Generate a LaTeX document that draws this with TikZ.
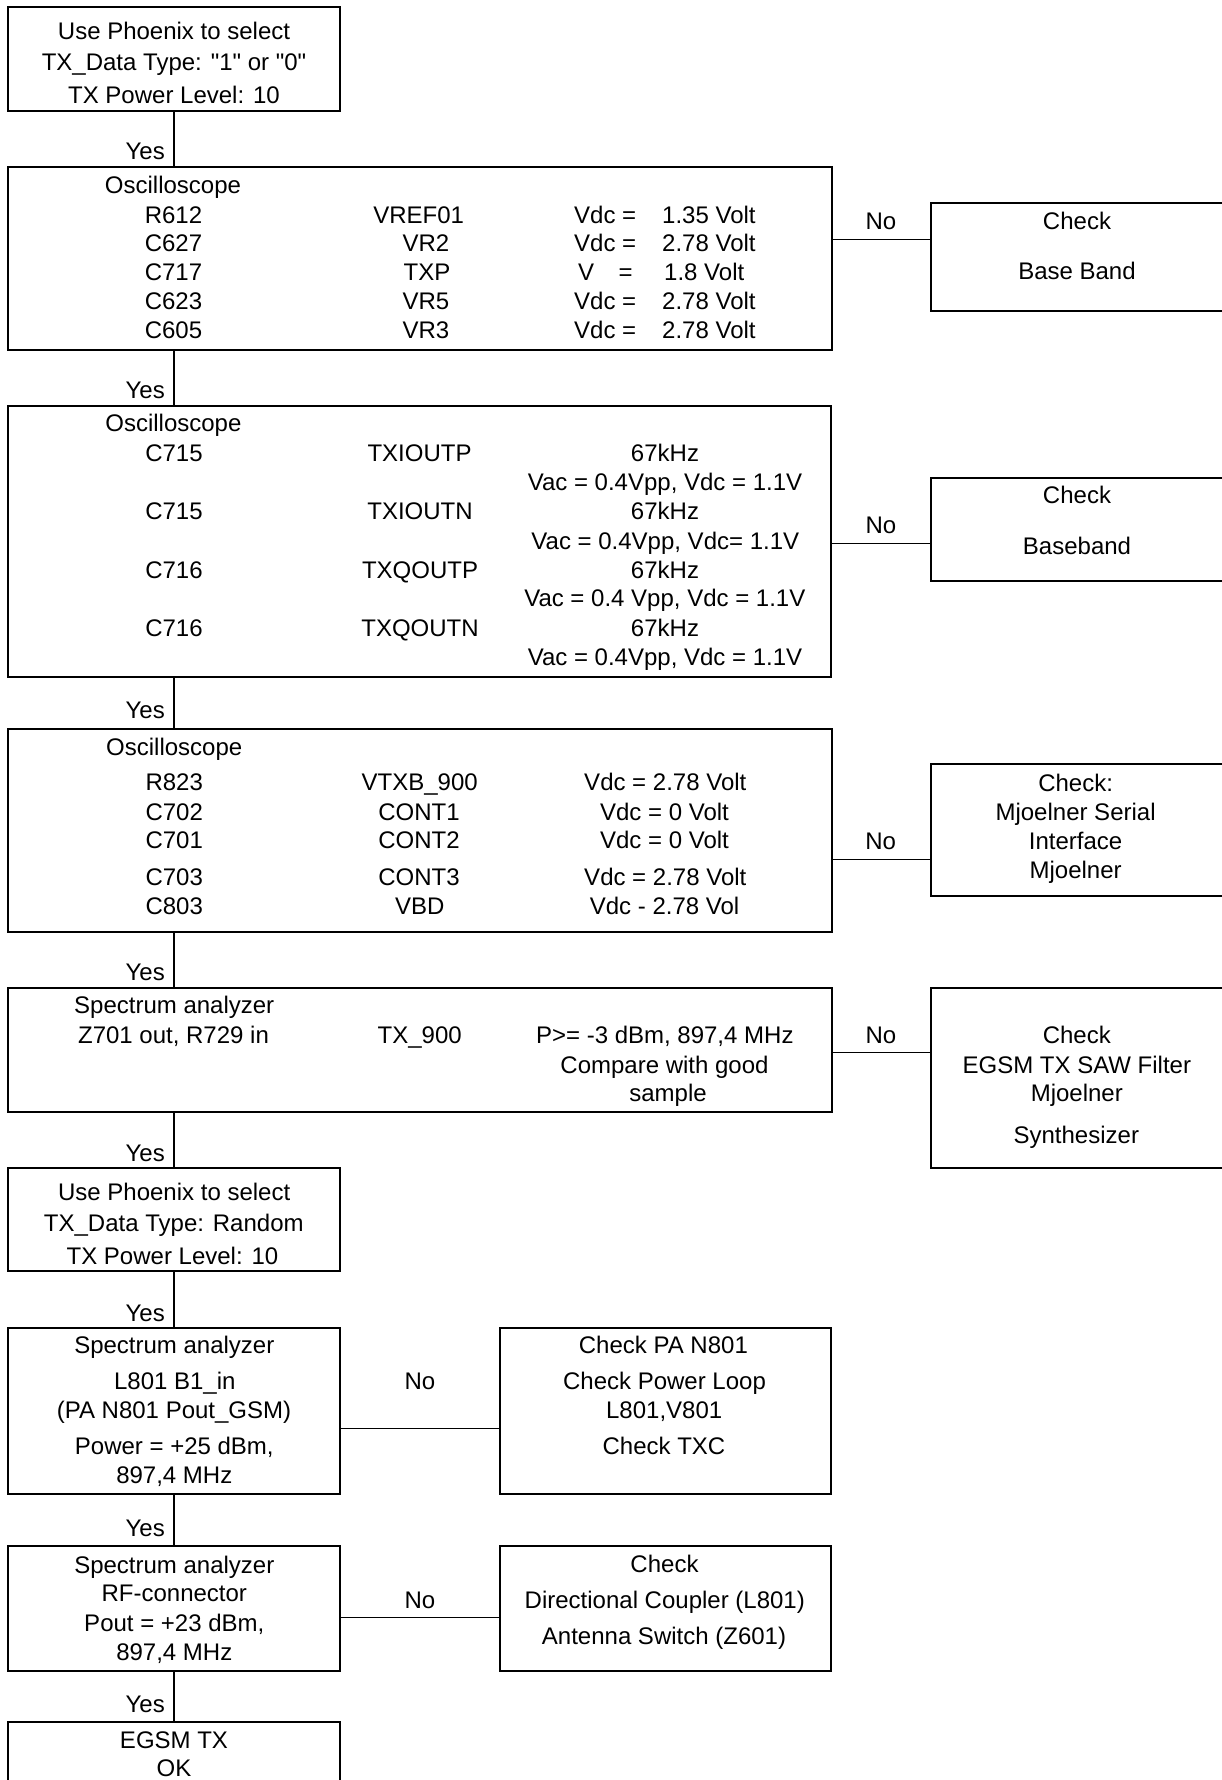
\documentclass[tikz,border=0pt]{standalone}
\usepackage{fontspec}
\setmainfont{Liberation Sans}[Ligatures=TeXOff]
\begin{document}
\begin{tikzpicture}[x=1pt,y=-1pt,
  box/.style={draw, line width=2pt, inner sep=0pt},
  conn/.style={line width=1.4pt},
  txt/.style={inner sep=0pt, text height=17.2pt, text depth=0pt, anchor=center},
  txw/.style={txt, anchor=west},
  yes/.style={txt, anchor=east},
  every node/.append style={font=\fontsize{24}{29}\selectfont}]
\useasboundingbox (0,0) rectangle (1222,1780);
\clip (0,0) rectangle (1222,1780);
% boxes
\node[box, minimum width=332pt, minimum height=104pt] (b1) at (174,59) {};
\node[box, minimum width=824pt, minimum height=183pt] (b2) at (420,258.5) {};
\node[box, minimum width=309pt, minimum height=108pt] (b3) at (1085.5,257) {};
\node[box, minimum width=823pt, minimum height=271pt] (b4) at (419.5,541.5) {};
\node[box, minimum width=309pt, minimum height=103pt] (b5) at (1085.5,529.5) {};
\node[box, minimum width=824pt, minimum height=203pt] (b6) at (420,830.5) {};
\node[box, minimum width=309pt, minimum height=132pt] (b7) at (1085.5,830) {};
\node[box, minimum width=824pt, minimum height=124pt] (b8) at (420,1050) {};
\node[box, minimum width=309pt, minimum height=180pt] (b9) at (1085.5,1078) {};
\node[box, minimum width=332pt, minimum height=103pt] (b10) at (174,1219.5) {};
\node[box, minimum width=332pt, minimum height=166pt] (b11) at (174,1411) {};
\node[box, minimum width=331pt, minimum height=166pt] (b12) at (665.5,1411) {};
\node[box, minimum width=332pt, minimum height=125pt] (b13) at (174,1608.5) {};
\node[box, minimum width=331pt, minimum height=125pt] (b14) at (665.5,1608.5) {};
\node[box, minimum width=332pt, minimum height=78pt] (b15) at (174,1761) {};
% box 1
\node[txt] (t1a) at (174,30.5) {Use Phoenix to select};
\node[txt] (t1b) at (174,62.2) {TX\_Data Type: "1" or "0"};
\node[txt] (t1c) at (174,94.7) {TX Power Level: 10};
% box 2
\node[txt] (t2h) at (173,185) {Oscilloscope};
\node[txt] (t2a1) at (173.5,214.7) {R612};
\node[txt] (t2b1) at (173.5,243.3) {C627};
\node[txt] (t2c1) at (173.5,272) {C717};
\node[txt] (t2d1) at (173.5,300.5) {C623};
\node[txt] (t2e1) at (173.5,330) {C605};
\node[txt] (t2a2) at (418.7,214.7) {VREF01};
\node[txt] (t2b2) at (426,243.3) {VR2};
\node[txt] (t2c2) at (427,272) {TXP};
\node[txt] (t2d2) at (426,300.5) {VR5};
\node[txt] (t2e2) at (426,330) {VR3};
\node[txw] (t2a3) at (574,214.7) {Vdc =};
\node[txw] (t2b3) at (574,243.3) {Vdc =};
\node[txw] (t2c3) at (578,272) {V\hspace{24.5pt}=};
\node[txw] (t2d3) at (574,300.5) {Vdc =};
\node[txw] (t2e3) at (574,330) {Vdc =};
\node[txw] (t2a4) at (662,214.7) {1.35 Volt};
\node[txw] (t2b4) at (662,243.3) {2.78 Volt};
\node[txw] (t2c4) at (664,272) {1.8 Volt};
\node[txw] (t2d4) at (662,300.5) {2.78 Volt};
\node[txw] (t2e4) at (662,330) {2.78 Volt};
% box 3
\node[txt] (t3a) at (1077,220.7) {Check};
\node[txt] (t3b) at (1077,270.7) {Base Band};
% box 4
\node[txt] (t4h) at (173.4,423.3) {Oscilloscope};
\node[txt] (t4a1) at (174,452.7) {C715};
\node[txt] (t4a2) at (419.5,452.7) {TXIOUTP};
\node[txt] (t4a3) at (665,452.7) {67kHz};
\node[txt] (t4a4) at (665,482.3) {Vac = 0.4Vpp, Vdc = 1.1V};
\node[txt] (t4b1) at (174,510.7) {C715};
\node[txt] (t4b2) at (420,510.7) {TXIOUTN};
\node[txt] (t4b3) at (665,510.7) {67kHz};
\node[txt] (t4b4) at (665.3,540.7) {Vac = 0.4Vpp, Vdc= 1.1V};
\node[txt] (t4c1) at (174,570) {C716};
\node[txt] (t4c2) at (420,570) {TXQOUTP};
\node[txt] (t4c3) at (665,570) {67kHz};
\node[txt] (t4c4) at (664.8,598.3) {Vac = 0.4 Vpp, Vdc = 1.1V};
\node[txt] (t4d1) at (174,628.3) {C716};
\node[txt] (t4d2) at (420,628.3) {TXQOUTN};
\node[txt] (t4d3) at (665,628.3) {67kHz};
\node[txt] (t4d4) at (665,656.7) {Vac = 0.4Vpp, Vdc = 1.1V};
% box 5
\node[txt] (t5a) at (1077,495) {Check};
\node[txt] (t5b) at (1077,546) {Baseband};
% box 6
\node[txt] (t6h) at (174.2,746.7) {Oscilloscope};
\node[txt] (t6a1) at (174.2,781.7) {R823};
\node[txt] (t6a2) at (419.7,781.7) {VTXB\_900};
\node[txt] (t6a3) at (665.3,781.7) {Vdc = 2.78 Volt};
\node[txt] (t6b1) at (174.2,811.7) {C702};
\node[txt] (t6b2) at (419,811.7) {CONT1};
\node[txt] (t6b3) at (664.5,811.7) {Vdc = 0 Volt};
\node[txt] (t6c1) at (174.2,840) {C701};
\node[txt] (t6c2) at (419,840) {CONT2};
\node[txt] (t6c3) at (664.5,840) {Vdc = 0 Volt};
\node[txt] (t6d1) at (174.2,876.7) {C703};
\node[txt] (t6d2) at (419,876.7) {CONT3};
\node[txt] (t6d3) at (665.3,876.7) {Vdc = 2.78 Volt};
\node[txt] (t6e1) at (174.2,905.7) {C803};
\node[txt] (t6e2) at (419.7,905.7) {VBD};
\node[txt] (t6e3) at (664.6,905.7) {Vdc - 2.78 Vol};
% box 7
\node[txt] (t7a) at (1075.6,782.7) {Check:};
\node[txt] (t7b) at (1075.6,811.7) {Mjoelner Serial};
\node[txt] (t7c) at (1075.6,841) {Interface};
\node[txt] (t7d) at (1075.6,870) {Mjoelner};
% box 8
\node[txt] (t8h) at (174.2,1005) {Spectrum analyzer};
\node[txt] (t8a1) at (173.5,1035) {Z701 out, R729 in};
\node[txt] (t8a2) at (419.7,1035) {TX\_900};
\node[txt] (t8a3) at (664.8,1035) {P>= -3 dBm, 897,4 MHz};
\node[txt] (t8b3) at (664.5,1065) {Compare with good};
\node[txt] (t8c3) at (668,1093.3) {sample};
% box 9
\node[txt] (t9a) at (1076.8,1035) {Check};
\node[txt] (t9b) at (1076.8,1065) {EGSM TX SAW Filter};
\node[txt] (t9c) at (1076.8,1093.3) {Mjoelner};
\node[txt] (t9d) at (1076.3,1135) {Synthesizer};
% box 10
\node[txt] (t10a) at (174.2,1191.7) {Use Phoenix to select};
\node[txt] (t10b) at (173.8,1223.3) {TX\_Data Type: Random};
\node[txt] (t10c) at (172.5,1256) {TX Power Level: 10};
% box 11
\node[txt] (t11a) at (174.3,1345) {Spectrum analyzer};
\node[txt] (t11b) at (174.8,1381) {L801 B1\_in};
\node[txt] (t11c) at (174,1410) {(PA N801 Pout\_GSM)};
\node[txt] (t11d) at (174.3,1446) {Power = +25 dBm,};
\node[txt] (t11e) at (174.3,1475) {897,4 MHz};
% box 12
\node[txt] (t12a) at (663.4,1345) {Check PA N801};
\node[txt] (t12b) at (664.5,1381) {Check Power Loop};
\node[txt] (t12c) at (664.2,1410) {L801,V801};
\node[txt] (t12d) at (664,1446) {Check TXC};
% box 13
\node[txt] (t13a) at (174.3,1565) {Spectrum analyzer};
\node[txt] (t13b) at (174.3,1593.3) {RF-connector};
\node[txt] (t13c) at (174.3,1622.7) {Pout = +23 dBm,};
\node[txt] (t13d) at (174.3,1651.7) {897,4 MHz};
% box 14
\node[txt] (t14a) at (664.5,1564.3) {Check};
\node[txt] (t14b) at (664.8,1600) {Directional Coupler (L801)};
\node[txt] (t14c) at (664,1636) {Antenna Switch (Z601)};
% box 15
\node[txt] (t15a) at (174,1740) {EGSM TX};
\node[txt] (t15b) at (174,1768.3) {OK};
% Yes connectors
\draw[conn] (b1.south) -- (b2.north -| b1.south);
\draw[conn] (b2.south -| b1.south) -- (b4.north -| b1.south);
\draw[conn] (b4.south -| b1.south) -- (b6.north -| b1.south);
\draw[conn] (b6.south -| b1.south) -- (b8.north -| b1.south);
\draw[conn] (b8.south -| b1.south) -- (b10.north);
\draw[conn] (b10.south) -- (b11.north);
\draw[conn] (b11.south) -- (b13.north);
\draw[conn] (b13.south) -- (b15.north);
\node[yes] (y1) at (165,150.5) {Yes};
\node[yes] (y2) at (165,389.5) {Yes};
\node[yes] (y3) at (165,710) {Yes};
\node[yes] (y4) at (165,971.7) {Yes};
\node[yes] (y5) at (165,1152.7) {Yes};
\node[yes] (y6) at (165,1312.7) {Yes};
\node[yes] (y7) at (165,1528.3) {Yes};
\node[yes] (y8) at (165,1704) {Yes};
% No connectors
\coordinate (n1) at (0,239.3);
\coordinate (n2) at (0,543.5);
\coordinate (n3) at (0,859.3);
\coordinate (n4) at (0,1052.5);
\coordinate (n5) at (0,1428.3);
\coordinate (n6) at (0,1617.7);
\draw[conn] (b2.east |- n1) -- (b3.west |- n1);
\draw[conn] (b4.east |- n2) -- (b5.west |- n2);
\draw[conn] (b6.east |- n3) -- (b7.west |- n3);
\draw[conn] (b8.east |- n4) -- (b9.west |- n4);
\draw[conn] (b11.east |- n5) -- (b12.west |- n5);
\draw[conn] (b13.east |- n6) -- (b14.west |- n6);
\node[txt] (no1) at (881,220.7) {No};
\node[txt] (no2) at (881,525) {No};
\node[txt] (no3) at (880.7,841) {No};
\node[txt] (no4) at (881,1035) {No};
\node[txt] (no5) at (420,1381) {No};
\node[txt] (no6) at (420,1600) {No};
\end{tikzpicture}
\end{document}
